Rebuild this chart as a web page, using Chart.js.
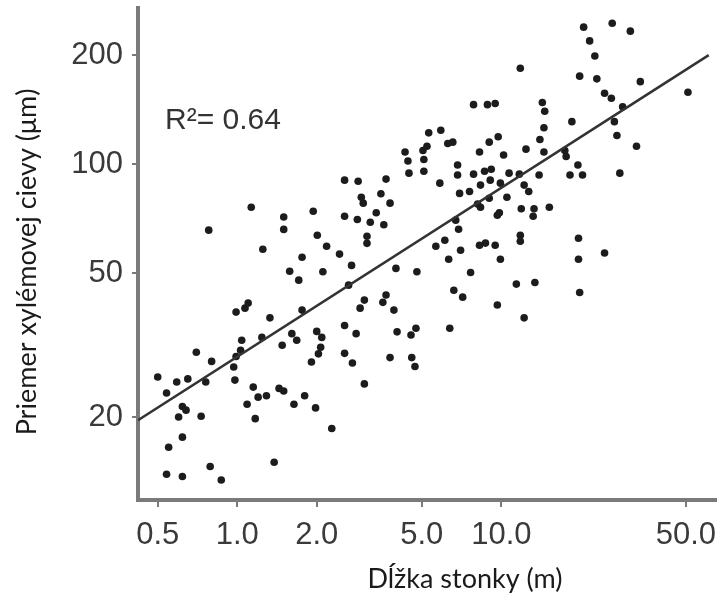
<!DOCTYPE html>
<html>
<head>
<meta charset="utf-8">
<script src="https://cdn.jsdelivr.net/npm/chart.js@4/dist/chart.umd.min.js"></script>
<style>
html,body{margin:0;padding:0;background:#fff;}
canvas{display:block;}
</style>
</head>
<body>
<canvas id="c" width="720" height="595"></canvas>
<script>
// Stem length (m) for each species
const stemLength = [
0.50,0.54,0.59,0.65,0.70,0.80,0.76,0.62,0.64,0.60,
0.73,0.62,0.55,0.54,0.62,0.79,0.87,0.78,0.99,0.99,
1.03,0.97,0.98,1.07,1.10,1.04,1.13,1.25,1.24,1.33,
1.15,1.20,1.29,1.09,1.17,1.38,1.44,1.50,1.50,1.50,
1.48,1.58,1.71,1.61,1.68,1.76,1.76,1.64,1.80,1.94,
2.01,1.98,1.91,2.00,2.09,2.07,2.03,2.11,2.18,2.28,
2.44,2.55,2.55,2.55,2.55,2.64,2.71,2.73,2.82,2.87,
2.85,2.95,3.00,2.92,3.03,3.03,3.10,3.10,3.19,3.36,
3.50,3.79,3.59,3.66,3.66,3.56,3.79,3.92,3.99,4.03,
4.32,4.43,4.47,4.55,4.75,4.58,4.71,4.79,5.05,5.23,
5.09,5.09,5.31,5.90,5.85,5.65,6.11,6.27,6.55,6.32,
6.38,6.61,7.14,6.72,6.89,6.83,6.83,6.95,7.01,7.58,
7.65,7.85,7.85,8.13,8.34,8.27,8.27,8.64,8.71,8.86,
9.08,8.34,9.00,9.00,9.16,9.48,9.48,9.73,10.2,9.83,
9.66,9.92,9.92,9.66,10.5,10.7,11.4,11.7,11.8,11.8,
11.8,11.9,12.2,12.2,12.7,12.4,13.3,13.2,13.4,13.9,
14.0,14.3,14.6,14.5,14.5,15.2,17.4,17.6,18.5,18.2,
20.3,19.5,19.6,19.6,19.8,19.8,20.5,21.6,22.6,23.0,
24.6,26.1,26.3,26.8,27.4,28.1,28.8,30.8,32.5,33.6,
24.6,50.9
];
// Xylem vessel diameter (µm)
const vesselDiameter = [
25.8,23.3,25.0,25.5,30.2,28.5,25.0,21.4,20.9,20.0,
20.1,17.6,16.5,13.9,13.7,14.6,13.4,65.7,39.0,29.4,
30.6,27.5,25.3,40.0,41.3,32.6,76.0,58.2,33.2,37.6,
24.2,22.7,22.9,21.7,19.8,15.0,24.0,23.6,71.4,66.0,
31.6,50.6,47.8,34.0,32.6,55.3,39.5,21.7,22.9,74.1,
63.6,21.2,28.4,34.5,33.2,31.2,29.9,50.4,59.3,18.6,
56.4,90.3,71.8,35.8,30.0,46.3,52.5,28.2,34.0,89.7,
70.3,81.0,78.0,40.0,42.1,24.7,63.2,60.4,69.1,73.4,
82.8,78.0,68.0,90.9,43.5,41.5,29.2,39.5,51.5,34.4,
108,102,94.4,33.7,35.2,29.2,27.6,50.4,109,112,
103,95.6,122,124,88.6,59.3,61.6,114,115,54.6,
35.2,44.8,42.9,70.0,66.1,99.4,93.3,83.0,57.8,84.0,
50.2,146,93.8,77.6,76.0,108,59.7,95.6,60.5,146,
90.3,87.5,80.5,115,96.8,147,59.7,119,106,73.4,
72.2,54.6,88.6,40.8,81.0,94.4,46.6,93.8,184,63.6,
61.2,75.3,37.6,87.5,84.0,110,75.3,71.8,47.1,93.3,
117,148,140,126,108,76.0,109,105,131,93.3,
93.3,99.4,62.4,54.6,44.2,175,239,219,199,172,
157,152,245,131,120,94.4,144,233,112,169,
56.8,158
];
// Regression line end points
const fitX = [0.421, 61];
const fitY = [19.6, 200];
const rSquared = "R\u00B2= 0.64";

const xTickValues = [0.5, 1, 2, 5, 10, 50];
const xTickLabels = ["0.5", "1.0", "2.0", "5.0", "10.0", "50.0"];
const yTickValues = [20, 50, 100, 200];
const yTickLabels = ["20", "50", "100", "200"];

const xTitle = "Dĺžka stonky (m)";
const yTitle = "Priemer xylémovej cievy (μm)";

const points = stemLength.map((x, i) => ({x: x, y: vesselDiameter[i]}));
const fitLine = fitX.map((x, i) => ({x: x, y: fitY[i]}));

const axisGray = '#7a7a7a';
const tickFont = {family: '"Liberation Sans", Arial, sans-serif', size: 31};

const textPlugin = {
  id: 'texts',
  afterDraw(chart) {
    const ctx = chart.ctx;
    const area = chart.chartArea;
    ctx.save();
    // R squared
    ctx.fillStyle = '#333';
    ctx.font = '30px "Liberation Sans", Arial, sans-serif';
    ctx.textAlign = 'left';
    ctx.textBaseline = 'alphabetic';
    ctx.fillText(rSquared, area.left + 27, 129);
    // axis titles
    ctx.fillStyle = '#1a1a1a';
    ctx.font = '27px Lato, "Open Sans", sans-serif';
    ctx.textAlign = 'center';
    ctx.fillText(xTitle, 465, 588);
    ctx.translate(36, 262);
    ctx.rotate(-Math.PI / 2);
    ctx.fillText(yTitle, 0, 0);
    ctx.restore();
  }
};

new Chart(document.getElementById('c'), {
  type: 'scatter',
  data: {
    datasets: [
      {
        type: 'line',
        data: fitLine,
        borderColor: '#333',
        borderWidth: 2.5,
        pointRadius: 0,
        fill: false
      },
      {
        data: points,
        backgroundColor: '#1c1c1c',
        borderColor: '#1c1c1c',
        borderWidth: 0,
        pointRadius: 3.8
      }
    ]
  },
  options: {
    responsive: false,
    devicePixelRatio: 1,
    animation: false,
    layout: {padding: {top: 8, right: 0, left: 0, bottom: 0}},
    plugins: {legend: {display: false}, tooltip: {enabled: false}},
    scales: {
      x: {
        type: 'logarithmic',
        min: 0.421,
        max: 65,
        afterBuildTicks(scale) { scale.ticks = xTickValues.map(v => ({value: v})); },
        afterFit(scale) { scale.height = 95; scale.paddingLeft = 0; scale.paddingRight = 0; },
        ticks: {
          autoSkip: false,
          maxRotation: 0,
          color: '#3a3a3a',
          font: tickFont,
          padding: 10,
          callback(value) { const i = xTickValues.indexOf(value); return i >= 0 ? xTickLabels[i] : ''; }
        },
        grid: {display: true, drawOnChartArea: false, drawTicks: true, tickLength: 7, color: axisGray, lineWidth: 2},
        border: {display: true, color: axisGray, width: 4}
      },
      y: {
        type: 'logarithmic',
        min: 11.8,
        max: 270,
        afterBuildTicks(scale) { scale.ticks = yTickValues.map(v => ({value: v})); },
        afterFit(scale) { scale.width = 138; scale.paddingTop = 0; scale.paddingBottom = 0; },
        ticks: {
          autoSkip: false,
          color: '#3a3a3a',
          font: tickFont,
          padding: 9,
          callback(value) { const i = yTickValues.indexOf(value); return i >= 0 ? yTickLabels[i] : ''; }
        },
        grid: {display: true, drawOnChartArea: false, drawTicks: true, tickLength: 6, color: axisGray, lineWidth: 2},
        border: {display: true, color: axisGray, width: 4}
      }
    }
  },
  plugins: [textPlugin]
});
</script>
</body>
</html>
